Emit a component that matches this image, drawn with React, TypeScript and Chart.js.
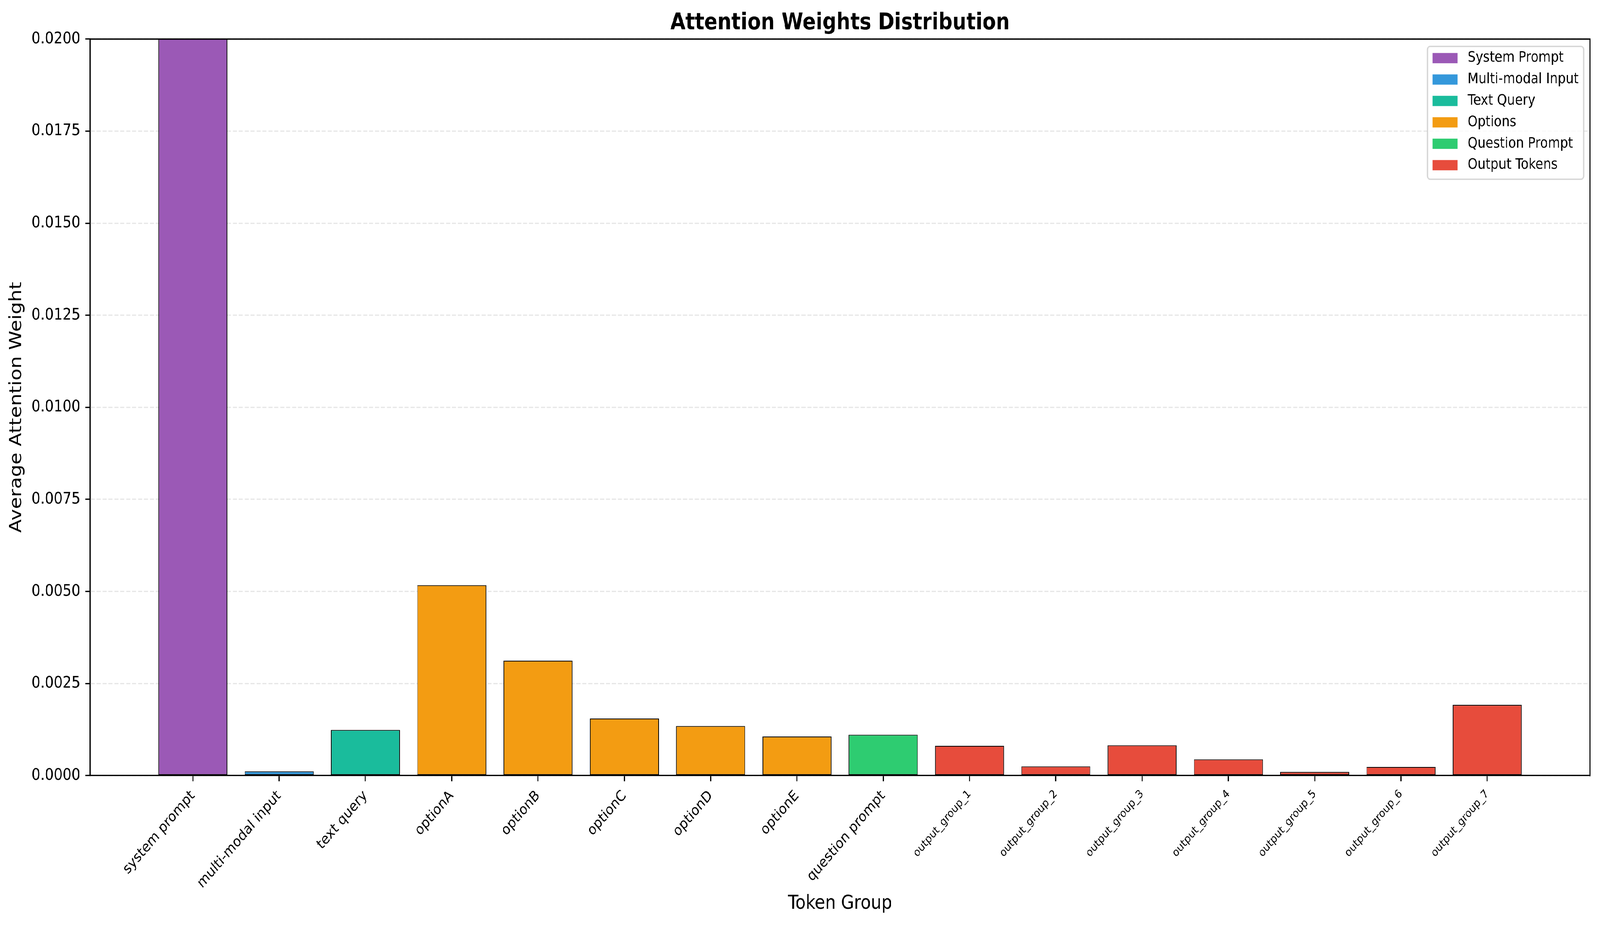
import React, { useEffect, useRef, useState } from 'react';
import { Chart, registerables } from 'chart.js';

Chart.register(...registerables);

// ---------------- data ----------------
const categories = [
  'system prompt',
  'multi-modal input',
  'text query',
  'optionA',
  'optionB',
  'optionC',
  'optionD',
  'optionE',
  'question prompt',
  'output_group_1',
  'output_group_2',
  'output_group_3',
  'output_group_4',
  'output_group_5',
  'output_group_6',
  'output_group_7',
];

const values = [
  0.0235, 0.000114, 0.00124, 0.00517, 0.00312, 0.00155, 0.001345, 0.00106,
  0.00111, 0.000808, 0.00025, 0.000823, 0.000441, 0.0001, 0.000234, 0.00192,
];

const groupOfCategory = [0, 1, 2, 3, 3, 3, 3, 3, 4, 5, 5, 5, 5, 5, 5, 5];

const groupNames = [
  'System Prompt',
  'Multi-modal Input',
  'Text Query',
  'Options',
  'Question Prompt',
  'Output Tokens',
];

const groupColors = ['#9b59b6', '#3498db', '#1abc9c', '#f39c12', '#2ecc71', '#e74c3c'];

const yMin = 0;
const yMax = 0.02;
const yStep = 0.0025;

const TITLE = 'Attention Weights Distribution';
const X_TITLE = 'Token Group';
const Y_TITLE = 'Average Attention Weight';

// ---------------- styling ----------------
const FAMILY = '"DejaVu Sans", sans-serif';
const REF_W = 4772;
const REF_H = 2370;
const PT = 300 / 72;
const LW = 0.8 * PT;

const frameLegendTitlePlugin = {
  id: 'frameLegendTitle',
  afterDraw(chart: any) {
    const { ctx, chartArea: a } = chart;
    ctx.save();
    // top and right spines
    ctx.strokeStyle = '#000';
    ctx.lineWidth = LW;
    ctx.lineCap = 'square';
    ctx.beginPath();
    ctx.moveTo(a.left, a.top);
    ctx.lineTo(a.right, a.top);
    ctx.lineTo(a.right, a.bottom);
    ctx.stroke();

    // title
    ctx.font = `bold ${14 * PT}px ${FAMILY}`;
    ctx.fillStyle = '#000';
    ctx.textAlign = 'center';
    ctx.textBaseline = 'alphabetic';
    ctx.fillText(TITLE, (a.left + a.right) / 2, a.top - 25);

    // legend
    const fs = 9 * PT;
    ctx.font = `${fs}px ${FAMILY}`;
    const maxW = Math.max(...groupNames.map((n) => ctx.measureText(n).width));
    const pad = 0.4 * fs;
    const handleW = 2 * fs;
    const handleH = 0.7 * fs;
    const textPad = 0.8 * fs;
    const rowStep = 54.8;
    const axPad = 0.5 * fs;
    const boxW = pad + handleW + textPad + maxW + pad;
    const firstOff = 30;
    const boxH = firstOff + (groupNames.length - 1) * rowStep + 36;
    const right = a.right - axPad;
    const left = right - boxW;
    const top = a.top + axPad;

    ctx.beginPath();
    (ctx as any).roundRect(left, top, boxW, boxH, 8);
    ctx.fillStyle = 'rgba(255,255,255,0.8)';
    ctx.fill();
    ctx.strokeStyle = 'rgba(204,204,204,0.8)';
    ctx.lineWidth = 3.5;
    ctx.stroke();

    ctx.textAlign = 'left';
    ctx.textBaseline = 'middle';
    groupNames.forEach((name, i) => {
      const cy = top + firstOff + i * rowStep;
      ctx.fillStyle = groupColors[i];
      ctx.fillRect(left + pad, cy - handleH / 2, handleW, handleH);
      ctx.fillStyle = '#000';
      ctx.fillText(name, left + pad + handleW + textPad, cy);
    });
    ctx.restore();
  },
};

function makeConfig() {
  const n = categories.length;
  const span = n - 1 + 0.8;
  const xMin = -0.4 - 0.05 * span;
  const xMax = n - 1 + 0.4 + 0.05 * span;

  return {
    type: 'bar',
    data: {
      datasets: [
        {
          label: 'Attention',
          data: values.map((v, i) => ({ x: i, y: v })),
          backgroundColor: categories.map((_, i) => groupColors[groupOfCategory[i]]),
          borderColor: '#000',
          borderWidth: 2.1,
          borderSkipped: false,
          barPercentage: 0.8,
          categoryPercentage: 1,
          clip: 0,
        },
      ],
    },
    options: {
      animation: false,
      responsive: false,
      devicePixelRatio: 1,
      layout: { padding: { top: 100, right: 30, bottom: 0, left: 0 } },
      plugins: {
        legend: { display: false },
        title: { display: false },
        tooltip: { enabled: false },
      },
      scales: {
        x: {
          type: 'linear',
          min: xMin,
          max: xMax,
          offset: false,
          bounds: 'data',
          afterBuildTicks: (scale: any) => {
            scale.ticks = categories.map((_, i) => ({ value: i }));
          },
          afterFit: (scale: any) => {
            scale.height = 385;
          },
          grid: {
            display: true,
            drawOnChartArea: false,
            drawTicks: true,
            offset: false,
            tickLength: 3.5 * PT,
            tickWidth: LW,
            tickColor: '#000',
          },
          border: { display: true, color: '#000', width: LW, z: 1 },
          ticks: {
            autoSkip: false,
            minRotation: 45,
            maxRotation: 45,
            padding: 15.5,
            color: '#000',
            font: (c: any) => ({
              family: FAMILY,
              size: String(categories[c.index] || '').startsWith('output_group') ? 7 * PT : 9 * PT,
            }),
            callback: (v: any) => categories[Math.round(Number(v))] ?? '',
          },
          title: {
            display: true,
            text: X_TITLE,
            color: '#000',
            font: { family: FAMILY, size: 12 * PT },
            padding: { top: 0, bottom: 27.3 },
          },
        },
        y: {
          type: 'linear',
          min: yMin,
          max: yMax,
          afterFit: (scale: any) => {
            scale.width = 269;
          },
          grid: {
            color: 'rgba(176,176,176,0.3)',
            lineWidth: LW,
            drawTicks: true,
            tickLength: 3.5 * PT,
            tickWidth: LW,
            tickColor: '#000',
          },
          border: {
            display: true,
            color: '#000',
            width: LW,
            dash: [3.7 * 0.8 * PT, 1.6 * 0.8 * PT],
            z: 1,
          },
          ticks: {
            stepSize: yStep,
            padding: 3.5 * PT,
            color: '#000',
            font: { family: FAMILY, size: 10 * PT },
            callback: (v: any) => Number(v).toFixed(4),
          },
          title: {
            display: true,
            text: Y_TITLE,
            color: '#000',
            font: { family: FAMILY, size: 12 * PT },
            padding: { top: 20.4, bottom: 0 },
          },
        },
      },
    },
    plugins: [frameLegendTitlePlugin],
  } as any;
}

export default function App() {
  const ref = useRef<HTMLCanvasElement>(null);
  const [fit] = useState(() => {
    const w = (typeof window !== 'undefined' && window.innerWidth) || REF_W;
    const h = (typeof window !== 'undefined' && window.innerHeight) || REF_H;
    return { sx: w / REF_W, sy: h / REF_H };
  });

  useEffect(() => {
    if (!ref.current) return;
    const chart = new Chart(ref.current, makeConfig());
    return () => chart.destroy();
  }, []);

  return (
    <div
      style={{
        position: 'fixed',
        left: 0,
        top: 0,
        width: REF_W,
        height: REF_H,
        background: '#fff',
        transformOrigin: '0 0',
        transform: `scale(${fit.sx}, ${fit.sy})`,
      }}
    >
      <canvas
        ref={ref}
        width={REF_W}
        height={REF_H}
        style={{ display: 'block', width: REF_W, height: REF_H }}
      />
    </div>
  );
}
